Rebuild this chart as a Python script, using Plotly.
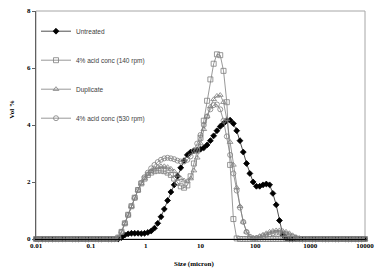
import plotly.graph_objects as go

size_um = [0.010, 0.011, 0.013, 0.015, 0.017, 0.020, 0.023, 0.026, 0.030, 0.035,
           0.040, 0.046, 0.052, 0.060, 0.069, 0.079, 0.091, 0.105, 0.120, 0.138,
           0.158, 0.182, 0.209, 0.240, 0.275, 0.316, 0.363, 0.417, 0.479, 0.550,
           0.631, 0.724, 0.832, 0.955, 1.096, 1.259, 1.445, 1.660, 1.905, 2.188,
           2.512, 2.884, 3.311, 3.802, 4.365, 5.012, 5.754, 6.607, 7.586, 8.710,
           10.000, 11.482, 13.183, 15.136, 17.378, 19.953, 22.909, 26.303, 30.200, 34.674,
           39.811, 45.709, 52.481, 60.256, 69.183, 79.433, 91.201, 104.713, 120.226, 138.038,
           158.489, 181.970, 208.930, 239.883, 275.423, 316.228, 363.078, 416.869, 478.630, 549.541,
           630.957, 724.436, 831.764, 954.993, 1096.478, 1258.925, 1445.440, 1659.587, 1905.461, 2187.762,
           2511.886, 2884.032, 3311.311, 3801.894, 4365.158, 5011.872, 5754.399, 6606.934, 7585.776, 8709.636,
           10000.000]

untreated = [0]*26 + [0.05, 0.14, 0.18, 0.2, 0.2, 0.2, 0.19, 0.2, 0.23, 0.28,
                      0.38, 0.55, 0.78, 1.05, 1.35, 1.65, 1.9, 2.2, 2.5, 2.75,
                      2.95, 3.05, 3.1, 3.12, 3.15, 3.2, 3.3, 3.45, 3.62, 3.8,
                      3.95, 4.05, 4.15, 4.17, 4.05, 3.8, 3.45, 3.05, 2.65, 2.3,
                      2.0, 1.85, 1.85, 1.9, 1.93, 1.9, 1.6, 1.2, 0.65, 0.15,
                      0.02] + [0]*24

acid_140 = [0]*25 + [0.05, 0.25, 0.55, 0.85, 1.15, 1.45, 1.72, 1.95, 2.12, 2.25,
                     2.33, 2.38, 2.4, 2.4, 2.38, 2.33, 2.25, 2.12, 1.97, 1.85,
                     1.8, 1.88, 2.2, 2.65, 3.1, 3.55, 4.15, 4.85, 5.6, 6.15,
                     6.48, 6.45, 5.9, 4.8, 2.6, 0.7, 0.02] + [0]*39

duplicate = [0]*25 + [0.05, 0.25, 0.55, 0.85, 1.15, 1.45, 1.72, 1.95, 2.12, 2.27,
                      2.38, 2.46, 2.52, 2.55, 2.55, 2.52, 2.46, 2.37, 2.25, 2.13,
                      2.05, 2.03, 2.12, 2.4, 2.85, 3.35, 3.85, 4.3, 4.65, 4.9,
                      5.02, 5.05, 4.8, 4.2, 3.4, 2.6, 1.8, 1.15, 0.6, 0.25,
                      0.08, 0.04, 0.05, 0.1, 0.15, 0.2, 0.25, 0.28, 0.3, 0.3,
                      0.28, 0.25, 0.2, 0.13, 0.07, 0.03, 0.01] + [0]*19

acid_530 = [0]*25 + [0.05, 0.25, 0.55, 0.85, 1.15, 1.45, 1.72, 1.97, 2.17, 2.33,
                     2.48, 2.6, 2.7, 2.78, 2.83, 2.85, 2.83, 2.8, 2.75, 2.72,
                     2.72, 2.78, 2.9, 3.1, 3.35, 3.65, 4.0, 4.3, 4.55, 4.7,
                     4.72, 4.55, 4.15, 3.6, 2.95, 2.3, 1.7, 1.1, 0.6, 0.25,
                     0.08, 0.02, 0.03, 0.06, 0.1, 0.14, 0.17, 0.2, 0.22, 0.22,
                     0.2, 0.17, 0.13, 0.08, 0.04, 0.01] + [0]*20

series_names = ["Untreated", "4% acid conc (140 rpm)", "Duplicate", "4% acid conc (530 rpm)"]
x_tick_vals = [0.01, 0.1, 1, 10, 100, 1000, 10000]
x_tick_text = ["0.01", "0.1", "1", "10", "100", "1000", "10000"]
y_tick_vals = [0, 2, 4, 6, 8]

for s in (untreated, acid_140, duplicate, acid_530):
    assert len(s) == len(size_um)

GREY = "#7f7f7f"
styles = [
    dict(symbol="diamond", color="black", fill="black", line="#222222", size=4.5),
    dict(symbol="square-open", color=GREY, fill=GREY, line=GREY, size=5),
    dict(symbol="triangle-up-open", color=GREY, fill=GREY, line=GREY, size=5),
    dict(symbol="circle-open", color=GREY, fill=GREY, line=GREY, size=5),
]

fig = go.Figure()
for i, (name, vals) in enumerate(zip(series_names, [untreated, acid_140, duplicate, acid_530])):
    st = styles[i]
    fig.add_trace(go.Scatter(
        x=size_um, y=vals, name=name, mode="lines+markers",
        line=dict(color=st["line"], width=0.8),
        marker=dict(symbol=st["symbol"], size=st["size"], color=st["fill"],
                    line=dict(color=st["color"], width=0.8)),
        cliponaxis=False, legendgroup=f"g{i}",
    ))

serif = "Liberation Serif"
fig.update_layout(
    width=381, height=280,
    margin=dict(l=36, r=9, t=7, b=41),
    paper_bgcolor="white", plot_bgcolor="white",
    showlegend=True,
    legend=dict(x=0.0, y=0.975, xanchor="left", yanchor="top",
                bgcolor="rgba(0,0,0,0)", tracegroupgap=10,
                font=dict(family="Liberation Sans", size=6.5, color="#404040")),
    xaxis=dict(type="log", range=[-2, 4], tickvals=x_tick_vals, ticktext=x_tick_text,
               showgrid=False, zeroline=False, showline=True, linecolor="black", linewidth=1,
               ticks="", ticklabeloverflow="allow",
               tickfont=dict(family=serif, size=7, color="black", weight="bold")),
    yaxis=dict(range=[0, 8], tickvals=y_tick_vals, showgrid=False, zeroline=False,
               showline=True, linecolor="#606060", linewidth=1,
               ticks="outside", ticklen=3, tickcolor="#606060",
               tickfont=dict(family=serif, size=7, color="black", weight="bold")),
    shapes=[dict(type="rect", xref="paper", yref="paper", x0=0, y0=0, x1=1, y1=1,
                 line=dict(color="#a6a6a6", width=1), layer="below")],
    annotations=[
        dict(text="Vol %", xref="paper", yref="paper", x=-0.09, y=0.569, textangle=-90,
             showarrow=False, font=dict(family=serif, size=7, color="black", weight="bold")),
        dict(text="Size (micron)", xref="paper", yref="paper", x=0.479, y=-0.134,
             showarrow=False, font=dict(family=serif, size=7, color="black", weight="bold")),
    ],
)

fig.write_html("out.html")
